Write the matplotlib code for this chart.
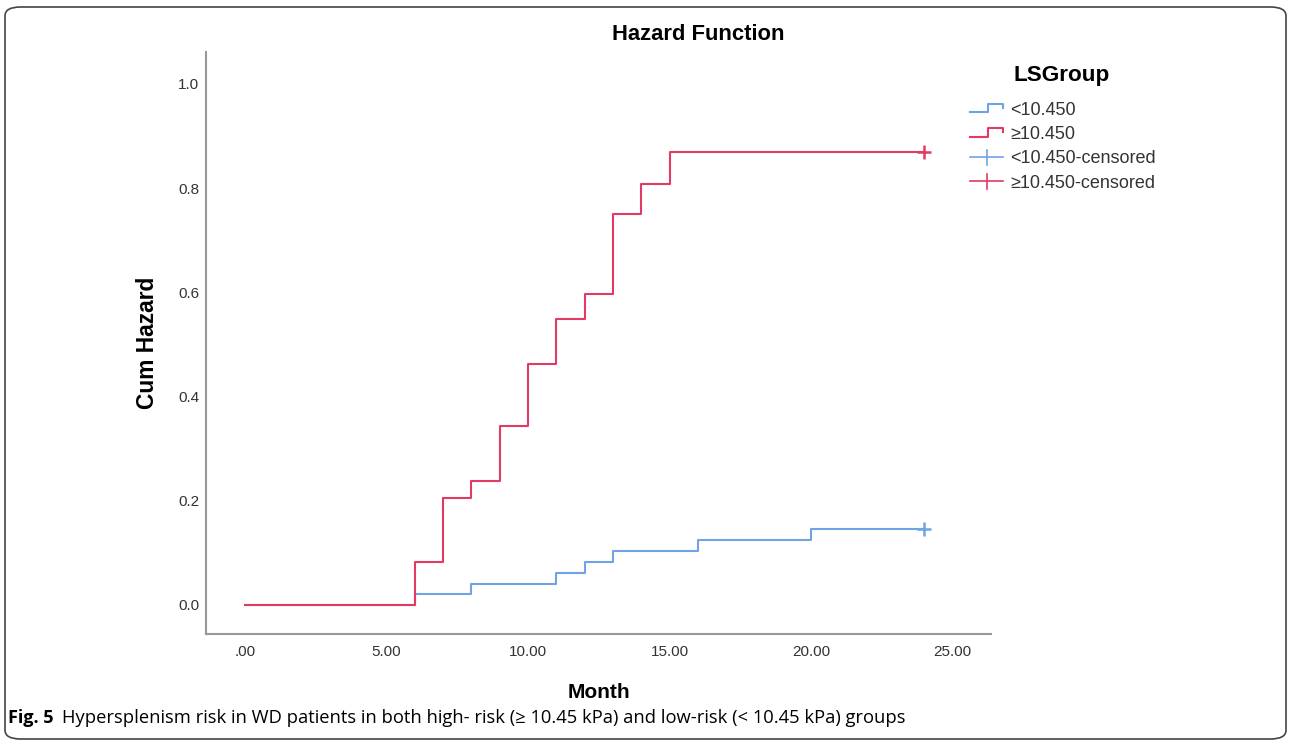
import matplotlib.pyplot as plt
import numpy as np
from matplotlib.legend_handler import HandlerBase
from matplotlib.lines import Line2D
from matplotlib.patches import FancyBboxPatch

plt.rcParams['font.family'] = ['Liberation Sans', 'DejaVu Sans']

# event times (months) and cumulative hazard
low_time = [0, 6, 8, 11, 12, 13, 16, 20, 24]
low_hazard = [0.0, 0.021, 0.041, 0.062, 0.083, 0.104, 0.125, 0.146, 0.146]
high_time = [0, 6, 7, 8, 9, 10, 11, 12, 13, 14, 15, 24]
high_hazard = [0.0, 0.083, 0.205, 0.238, 0.344, 0.463, 0.549, 0.597, 0.750, 0.808, 0.869, 0.869]
censor_time = 24
group_labels = ['<10.450', '\u226510.450']

blue = '#6fa3e6'
red = '#e23a62'


# legend glyph shaped like a step
class StepHandler(HandlerBase):
    def create_artists(self, legend, orig, xd, yd, w, h, fontsize, trans):
        xs = [xd, xd + 0.55 * w, xd + 0.55 * w, xd + w, xd + w]
        ys = [yd + 0.2 * h, yd + 0.2 * h, yd + 0.85 * h, yd + 0.85 * h, yd + 0.55 * h]
        ln = Line2D(xs, ys, color=orig.get_color(), lw=orig.get_linewidth(), transform=trans)
        return [ln]


class PlusHandler(HandlerBase):
    def create_artists(self, legend, orig, xd, yd, w, h, fontsize, trans):
        ln = Line2D([xd, xd + w], [yd + 0.5 * h] * 2, color=orig.get_color(), lw=1.2, transform=trans)
        vl = Line2D([xd + 0.5 * w] * 2, [yd - 0.1 * h, yd + 1.1 * h], color=orig.get_color(), lw=1.2, transform=trans)
        return [ln, vl]


fig = plt.figure(figsize=(12.9, 7.43), dpi=100)
ax = fig.add_axes([0.1597, 0.1467, 0.7682 - 0.1597, 0.930 - 0.1467])

l1, = ax.step(low_time, low_hazard, where='post', color=blue, lw=1.5)
l2, = ax.step(high_time, high_hazard, where='post', color=red, lw=1.5)
ax.plot(censor_time, low_hazard[-1], marker='+', color=blue, ms=10, mew=1.8)
ax.plot(censor_time, high_hazard[-1], marker='+', color=red, ms=10, mew=1.8)

ax.set_xlim(-1.38, 26.36)
ax.set_ylim(-0.0557, 1.061)
ax.set_xticks([0, 5, 10, 15, 20, 25])
ax.set_xticklabels(['.00', '5.00', '10.00', '15.00', '20.00', '25.00'])
ax.set_yticks([0, 0.2, 0.4, 0.6, 0.8, 1.0])
ax.set_yticklabels(['0.0', '0.2', '0.4', '0.6', '0.8', '1.0'])
ax.tick_params(length=0, labelsize=11, colors='#333333')
ax.tick_params(axis='x', pad=8)
ax.tick_params(axis='y', pad=5)
for s in ['top', 'right']:
    ax.spines[s].set_visible(False)
for s in ['left', 'bottom']:
    ax.spines[s].set_color('#999999')
    ax.spines[s].set_linewidth(1.5)

fig.text(147 / 1290, 1 - 343 / 743, 'Cum Hazard', rotation=90, ha='center', va='center',
         fontsize=16.4, fontweight='bold')
fig.text(599 / 1290, 1 - 693 / 743, 'Month', ha='center', va='center', fontsize=15, fontweight='bold')
fig.text(698 / 1290, 1 - 35 / 743, 'Hazard Function', ha='center', va='center', fontsize=15.8, fontweight='bold')
fig.text(1062 / 1290, 1 - 76 / 743, 'LSGroup', ha='center', va='center', fontsize=16.2, fontweight='bold')

c1 = Line2D([], [], color=blue)
c2 = Line2D([], [], color=red)
leg = fig.legend([l1, l2, c1, c2],
                 [group_labels[0], group_labels[1], group_labels[0] + '-censored', group_labels[1] + '-censored'],
                 handler_map={l1: StepHandler(), l2: StepHandler(), c1: PlusHandler(), c2: PlusHandler()},
                 loc='upper left', bbox_to_anchor=(970 / 1290, 1 - 102 / 743), frameon=False, borderpad=0,
                 borderaxespad=0, fontsize=13, handlelength=1.83, handletextpad=0.4, labelspacing=0.4)
for t in leg.get_texts():
    t.set_color('#333333')

fig.text(8 / 1290, 1 - 718 / 743, 'Fig. 5', fontsize=13, fontweight='bold', va='center', family='Open Sans')
fig.text(62 / 1290, 1 - 718 / 743,
         'Hypersplenism risk in WD patients in both high- risk (\u2265 10.45 kPa) and low-risk (< 10.45 kPa) groups',
         fontsize=13.2, va='center', family='Open Sans')

border = FancyBboxPatch((5 / 1290, 4 / 743), 1281 / 1290, 732 / 743,
                        boxstyle='round,pad=0,rounding_size=0.012', transform=fig.transFigure,
                        fill=False, edgecolor='#444444', lw=1.2)
fig.patches.append(border)

fig.savefig('out.png', dpi=100)
